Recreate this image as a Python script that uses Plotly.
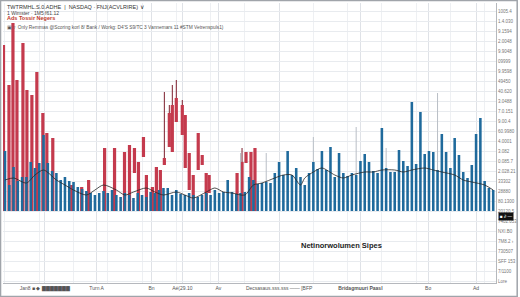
import plotly.graph_objects as go

# ---------------- data ----------------
# blue volume bars, one per session index 0..114
blue_vol = [60, 26, 44, 30, 34, 34, 49, 43, 48, 76,
            48, 40, 38, 31, 34, 30, 29, 24, 22, 20,
            18, 16, 18, 20, 18, 21, 16, 14, 18, 16,
            13, 18, 16, 14, 19, 18, 21, 23, 23, 16,
            21, 17, 16, 18, 16, 14, 16, 18, 16, 21,
            18, 19, 31, 19, 17, 18, 19, 34, 31, 27,
            28, 29, 28, 38, 49, 36, 60, 36, 43, 34,
            26, 38, 49, 42, 60, 41, 64, 34, 58, 38,
            35, 38, 36, 50, 57, 49, 40, 38, 83, 43,
            39, 39, 61, 50, 45, 109, 47, 99, 57, 60,
            59, 41, 77, 59, 43, 73, 56, 39, 33, 46,
            77, 93, 30, 23, 21]

# faint wicks above some blue bars
blue_wick_x = [55, 61, 72, 78, 82, 89, 101]
blue_wick_hi = [58, 58, 74, 58, 84, 63, 118]

# red candles: position, body top, body bottom, wick high
red_x = [-0.35, 0.93, 1.86, 2.79, 4.19, 5.12, 6.28, 7.44, 8.84, 9.77,
         11.16, 15.58, 17.91, 19.53, 23.26, 25.58, 27.91, 29.07, 30.23, 31.16,
         32.33, 33.02, 34.42, 35.35, 36.28, 37.21, 38.37, 39.07, 40.0, 41.4,
         42.09, 43.02, 43.95, 45.12, 46.05, 46.98, 47.67, 54.19, 55.35, 56.28,
         57.44, 58.37]
red_top = [166, 126, 188, 131, 168, 121, 116, 139, 98, 78,
           73, 26, 24, 31, 63, 63, 59, 66, 63, 49,
           74, 36, 24, 44, 41, 53, 98, 106, 113, 106,
           96, 58, 36, 78, 56, 38, 36, 38, 49, 59,
           59, 63]
red_bottom = [0, 0, 0, 0, 0, 0, 0, 0, 0, 0,
              0, 0, 0, 0, 0, 0, 0, 0, 38, 0,
              54, 0, 0, 0, 0, 46, 64, 59, 89, 76,
              43, 21, 0, 41, 46, 0, 18, 0, 0, 48,
              0, 0]
red_high = [166, 126, 188, 131, 168, 121, 116, 139, 98, 78,
            73, 26, 24, 31, 63, 63, 59, 66, 63, 49,
            74, 36, 24, 44, 41, 119, 106, 126, 131, 111,
            96, 58, 36, 78, 56, 38, 36, 38, 63, 59,
            59, 63]

# moving-average line
ma_x = [0, 2, 5, 7, 9, 12, 14, 16, 19, 21, 23, 26, 28, 30, 33, 35, 37, 40, 42, 44,
        47, 49, 51, 53, 56, 58, 60, 63, 65, 67, 69, 70, 72, 74, 77, 79, 81, 84, 86, 88,
        91, 93, 95, 98, 100, 102, 105, 107, 109, 112, 114]
ma_y = [31, 33, 28, 36, 41, 31, 26, 21, 16, 21, 26, 21, 16, 19, 23, 19, 16, 19, 16, 13,
        19, 23, 19, 18, 16, 26, 28, 33, 36, 36, 26, 33, 39, 43, 36, 33, 36, 39, 39, 41,
        41, 39, 41, 43, 41, 39, 36, 31, 29, 26, 21]

# axis labels
x_tickvals = [9.3, 21.4, 34.2, 41.4, 49.8, 64, 83, 98.8, 110]
x_ticktext = ["Jan8 ■ ◆ ▇▇▇▇▇▇▇", "Turn A", "Bn", "Aé(29.10", "Av",
              "Decsasaus.sss.sss —— [BFP", "<b>Bridagmuuri Paasl</b>", "Bo", "Ad"]
y_tickvals = [-70, -60, -50, -40, -30, -20, -10, 0, 10, 20, 30, 40, 50, 60, 70, 80, 90,
              100, 110, 120, 130, 140, 150, 160, 170, 180, 190, 200]
y_ticktext = ["Lore", "7/1100", "SFF 153", "730507", "7M8.2 ›", "NXI.B0", "7402.053",
              "20120.5", "80.1300", "28880", "33302", "2.028.21", "0.085.7", "3.082",
              "4.0001", "60.9980", "9.00.4", "7.0.151", "3.0488", "40.620", "49450",
              "9.9598", "09999", "9.9048", "2.0048", "9.1594", "1.4.030", "1005.4"]

title_lines = ["TWTRMHL.S.0.ADHE  |  NASDAQ · FNJ(ACVLRIRE) ∨",
               "1 Wimster · 1M5 f61.12"]
subtitle_red = "Ads Tossir Negers"
legend_line = ("▣ ▿ Only Remmas @Scoring korl 8/ Bank / Workg: D4'S S9/TC 3 "
               "Vannemars 11 #STM Vetrenspuls1)")
note_text = "Netinorwolumen Sipes"

# ---------------- figure ----------------
fig = go.Figure()

fig.add_trace(go.Bar(
    x=red_x, y=[t - b for t, b in zip(red_top, red_bottom)], base=red_bottom,
    width=0.75, marker=dict(color="#c43a4d", line=dict(width=0)), hoverinfo="skip"))

wx, wy = [], []
for x, t, h in zip(red_x, red_top, red_high):
    if h > t:
        wx += [x, x, None]
        wy += [t, h, None]
fig.add_trace(go.Scatter(x=wx, y=wy, mode="lines",
                         line=dict(color="#7d1f2e", width=1), hoverinfo="skip"))

bx, by = [], []
for x, h in zip(blue_wick_x, blue_wick_hi):
    bx += [x, x, None]
    by += [blue_vol[x], h, None]
fig.add_trace(go.Scatter(x=bx, y=by, mode="lines",
                         line=dict(color="#b9bec6", width=1), hoverinfo="skip"))

fig.add_trace(go.Bar(
    x=list(range(len(blue_vol))), y=blue_vol, width=0.6,
    marker=dict(color="#1f6a9c", line=dict(width=0)), hoverinfo="skip"))

fig.add_trace(go.Scatter(x=ma_x, y=ma_y, mode="lines",
                         line=dict(color="#262626", width=0.8, shape="spline", smoothing=0.8),
                         hoverinfo="skip"))

annotations = [
    dict(x=0.004, y=1.003, xref="paper", yref="paper", xanchor="left", yanchor="top",
         text=title_lines[0], showarrow=False,
         font=dict(size=5.5, color="#333", family="Liberation Sans")),
    dict(x=0.004, y=0.983, xref="paper", yref="paper", xanchor="left", yanchor="top",
         text=title_lines[1], showarrow=False,
         font=dict(size=5, color="#444", family="Liberation Sans")),
    dict(x=0.004, y=0.963, xref="paper", yref="paper", xanchor="left", yanchor="top",
         text="<b>" + subtitle_red + "</b>", showarrow=False,
         font=dict(size=5.5, color="#c0392b", family="Liberation Sans")),
    dict(x=0.004, y=0.93, xref="paper", yref="paper", xanchor="left", yanchor="top",
         text=legend_line, showarrow=False,
         font=dict(size=4.8, color="#555", family="Liberation Sans")),
    dict(x=0.60, y=-34, xref="paper", yref="y", xanchor="left", yanchor="middle",
         text="<b>" + note_text + "</b>", showarrow=False,
         font=dict(size=7.5, color="#222", family="Liberation Sans")),
    dict(x=1.004, y=-5, xref="paper", yref="y", xanchor="left", yanchor="middle",
         text="■ ∂ —", showarrow=False, bgcolor="#111",
         font=dict(size=4.5, color="#fff", family="Liberation Sans")),
]

fig.update_layout(
    width=520, height=297,
    margin=dict(l=3, r=22, t=3, b=14),
    paper_bgcolor="#ffffff", plot_bgcolor="#ffffff",
    showlegend=False, barmode="overlay",
    annotations=annotations,
    xaxis=dict(range=[-0.465, 114.65], tickvals=x_tickvals, ticktext=x_ticktext,
               tickfont=dict(size=5, color="#555", family="Liberation Sans"),
               showgrid=True, gridcolor="#dfe2e7", gridwidth=1,
               minor=dict(dtick=8, tick0=0, showgrid=True, gridcolor="#eef0f3", gridwidth=1),
               showline=True, linecolor="#b5b8bd", ticks="", zeroline=False),
    yaxis=dict(range=[-72, 208], side="right", tickvals=y_tickvals, ticktext=y_ticktext,
               tickfont=dict(size=4.5, color="#777", family="Liberation Sans"),
               showgrid=True, gridcolor="#e8ebef", gridwidth=1,
               showline=True, linecolor="#b5b8bd", ticks="", zeroline=False),
    shapes=[dict(type="rect", xref="paper", yref="paper",
                 x0=-0.005, x1=1.043, y0=-0.048, y1=1.009,
                 line=dict(color="#a0a4aa", width=1.5))],
)

fig.write_html("out.html")
